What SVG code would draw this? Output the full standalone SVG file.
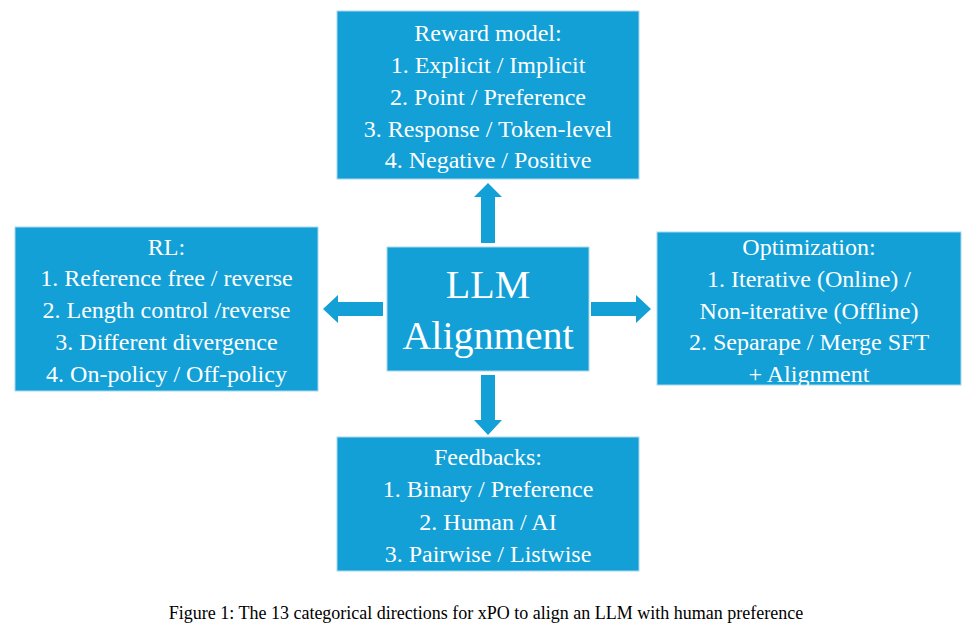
<svg xmlns="http://www.w3.org/2000/svg" width="970" height="633" viewBox="0 0 970 633">
<style>
.nodebox{fill:#12A0D7;stroke:#A9D8EE;stroke-width:1}
.arrowshape{fill:#12A0D7}
</style>
<rect width="970" height="633" fill="#ffffff"/>
<g id="connectors">
<polygon class="arrowshape" points="481,243 481,197 474,197 488,183 502,197 495,197 495,243"/>
<polygon class="arrowshape" points="481,375 481,420 474,420 488,435 502,420 495,420 495,375"/>
<polygon class="arrowshape" points="383,302 338,302 338,295 323,309 338,323 338,316 383,316"/>
<polygon class="arrowshape" points="591,302 636,302 636,295 651,309 636,323 636,316 591,316"/>
</g>
<g id="reward">
<rect class="nodebox" x="337" y="11" width="302" height="168"/>
<text font-family="Liberation Serif" font-size="24" fill="#fff" text-anchor="middle" x="488" y="41">Reward model:</text>
<text font-family="Liberation Serif" font-size="24" fill="#fff" text-anchor="middle" x="488" y="73">1. Explicit / Implicit</text>
<text font-family="Liberation Serif" font-size="24" fill="#fff" text-anchor="middle" x="488" y="105">2. Point / Preference</text>
<text font-family="Liberation Serif" font-size="24" fill="#fff" text-anchor="middle" x="488" y="137">3. Response / Token-level</text>
<text font-family="Liberation Serif" font-size="24" fill="#fff" text-anchor="middle" x="488" y="168">4. Negative / Positive</text>
</g>
<g id="rl">
<rect class="nodebox" x="15" y="227" width="303" height="164"/>
<text font-family="Liberation Serif" font-size="24" fill="#fff" text-anchor="middle" x="166.5" y="255">RL:</text>
<text font-family="Liberation Serif" font-size="24" fill="#fff" text-anchor="middle" x="166.5" y="286">1. Reference free / reverse</text>
<text font-family="Liberation Serif" font-size="24" fill="#fff" text-anchor="middle" x="166.5" y="318">2. Length control /reverse</text>
<text font-family="Liberation Serif" font-size="24" fill="#fff" text-anchor="middle" x="166.5" y="350">3. Different divergence</text>
<text font-family="Liberation Serif" font-size="24" fill="#fff" text-anchor="middle" x="166.5" y="382">4. On-policy / Off-policy</text>
</g>
<g id="center">
<rect class="nodebox" x="387" y="247" width="202" height="124"/>
<text font-family="Liberation Serif" font-size="40" fill="#fff" text-anchor="middle" x="488" y="298">LLM</text>
<text font-family="Liberation Serif" font-size="40" fill="#fff" text-anchor="middle" x="488" y="349">Alignment</text>
</g>
<g id="optimization">
<rect class="nodebox" x="657" y="232" width="304" height="153"/>
<text font-family="Liberation Serif" font-size="24" fill="#fff" text-anchor="middle" x="809" y="255">Optimization:</text>
<text font-family="Liberation Serif" font-size="24" fill="#fff" text-anchor="middle" x="809" y="287">1. Iterative (Online) /</text>
<text font-family="Liberation Serif" font-size="24" fill="#fff" text-anchor="middle" x="809" y="319">Non-iterative (Offline)</text>
<text font-family="Liberation Serif" font-size="24" fill="#fff" text-anchor="middle" x="809" y="350">2. Separape / Merge SFT</text>
<text font-family="Liberation Serif" font-size="24" fill="#fff" text-anchor="middle" x="809" y="382">+ Alignment</text>
</g>
<g id="feedbacks">
<rect class="nodebox" x="337" y="437" width="302" height="134"/>
<text font-family="Liberation Serif" font-size="24" fill="#fff" text-anchor="middle" x="488" y="465">Feedbacks:</text>
<text font-family="Liberation Serif" font-size="24" fill="#fff" text-anchor="middle" x="488" y="497">1. Binary / Preference</text>
<text font-family="Liberation Serif" font-size="24" fill="#fff" text-anchor="middle" x="488" y="530">2. Human / AI</text>
<text font-family="Liberation Serif" font-size="24" fill="#fff" text-anchor="middle" x="488" y="562">3. Pairwise / Listwise</text>
</g>
<text font-family="Liberation Serif" font-size="18" fill="#000" text-anchor="middle" x="486" y="619">Figure 1: The 13 categorical directions for xPO to align an LLM with human preference</text>
</svg>
